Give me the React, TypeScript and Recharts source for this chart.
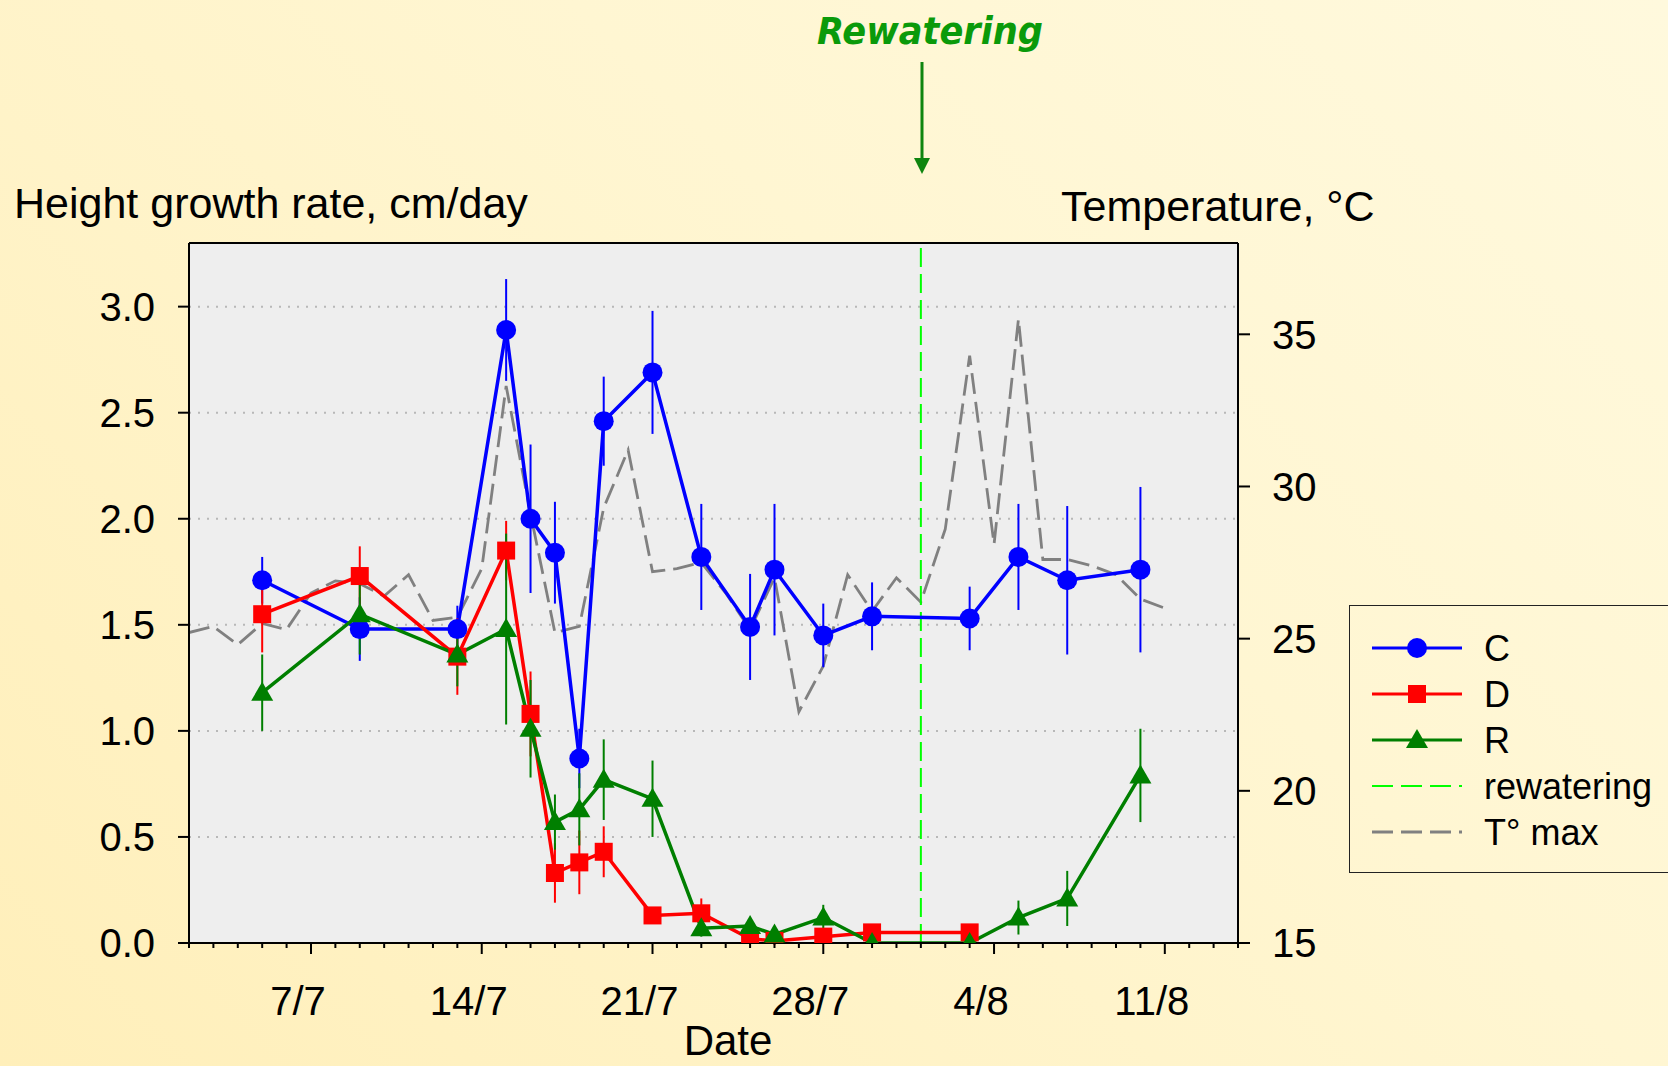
import React from 'react';
import {
  ComposedChart,
  Line,
  XAxis,
  YAxis,
  CartesianGrid,
  ReferenceLine,
  ErrorBar,
  Legend,
} from 'recharts';

// day numbers: July d -> d, August d -> 31 + d
const C_DAYS = [5, 9, 13, 15, 16, 17, 18, 19, 21, 23, 25, 26, 28, 30, 34, 36, 38, 41];
const C_RATE = [1.71, 1.48, 1.48, 2.89, 2.0, 1.84, 0.87, 2.46, 2.69, 1.82, 1.49, 1.76, 1.45, 1.54, 1.53, 1.82, 1.71, 1.76];
const C_ERR = [0.11, 0.15, 0.11, 0.24, 0.35, 0.24, 0.14, 0.21, 0.29, 0.25, 0.25, 0.31, 0.15, 0.16, 0.15, 0.25, 0.35, 0.39];

const D_DAYS = [5, 9, 13, 15, 16, 17, 18, 19, 21, 23, 25, 26, 28, 30, 34];
const D_RATE = [1.55, 1.73, 1.35, 1.85, 1.08, 0.33, 0.38, 0.43, 0.13, 0.14, 0.02, 0.01, 0.03, 0.05, 0.05];
const D_ERR = [0.18, 0.14, 0.18, 0.14, 0.2, 0.14, 0.15, 0.12, 0.03, 0.07, 0.02, 0.02, 0.02, 0.02, 0.02];

const R_DAYS = [5, 9, 13, 15, 16, 17, 18, 19, 21, 23, 25, 26, 28, 30, 34, 36, 38, 41];
const R_RATE = [1.18, 1.55, 1.36, 1.48, 1.01, 0.57, 0.63, 0.77, 0.68, 0.07, 0.08, 0.04, 0.12, 0.0, 0.0, 0.12, 0.21, 0.79];
const R_ERR = [0.18, 0.19, 0.15, 0.45, 0.23, 0.13, 0.17, 0.19, 0.18, 0.04, 0.02, 0.02, 0.06, 0, 0, 0.08, 0.13, 0.22];

const T_DAYS = [2, 3, 4, 5, 6, 7, 8, 9, 10, 11, 12, 13, 14, 15, 16, 17, 18, 19, 20, 21, 22, 23, 24, 25, 26, 27, 28, 29, 30, 31, 32, 33, 34, 35, 36, 37, 38, 39, 40, 41, 42];
const T_MAX = [25.2, 25.4, 24.8, 25.5, 25.3, 26.5, 26.9, 26.8, 26.4, 27.1, 25.6, 25.7, 27.3, 33.3, 29.1, 25.2, 25.4, 29.3, 31.2, 27.2, 27.3, 27.5, 26.5, 25.3, 27.0, 22.6, 24.1, 27.1, 25.9, 27.0, 26.2, 28.6, 34.3, 28.1, 35.5, 27.6, 27.6, 27.4, 27.1, 26.3, 26.0];

const REWATERING_DAY = 32;
const MAJOR_DAYS = [7, 14, 21, 28, 35, 42];
const MAJOR_LABELS = ['7/7', '14/7', '21/7', '28/7', '4/8', '11/8'];
const ALL_DAYS = Array.from({ length: 44 }, (_, i) => i + 2);
const LEFT_TICKS = [0, 0.5, 1.0, 1.5, 2.0, 2.5, 3.0];
const RIGHT_TICKS = [15, 20, 25, 30, 35];

const cData = C_DAYS.map((d, i) => ({ day: d, value: C_RATE[i], err: C_ERR[i] }));
const dData = D_DAYS.map((d, i) => ({ day: d, value: D_RATE[i], err: D_ERR[i] }));
const rData = R_DAYS.map((d, i) => ({ day: d, value: R_RATE[i], err: R_ERR[i] }));
const tData = T_DAYS.map((d, i) => ({ day: d, temp: T_MAX[i] }));

const BLUE = '#0000ff';
const RED = '#ff0000';
const GREEN = '#007f00';
const LIME = '#00ff00';
const GREY = '#808080';
const FONT = '"Liberation Sans", Arial, sans-serif';

const Circle = ({ cx, cy, fill }: any) => <circle cx={cx} cy={cy} r={10} fill={fill} />;
const Square = ({ cx, cy, fill }: any) => <rect x={cx - 9} y={cy - 9} width={18} height={18} fill={fill} />;
const Triangle = ({ cx, cy, fill }: any) => (
  <polygon points={`${cx},${cy - 11} ${cx + 11},${cy + 8} ${cx - 11},${cy + 8}`} fill={fill} />
);

const XTick = ({ x, y, payload }: any) => {
  const idx = MAJOR_DAYS.indexOf(payload.value);
  const major = idx >= 0;
  return (
    <g>
      <line x1={x} x2={x} y1={y} y2={y + (major ? 11 : 5)} stroke="#000" strokeWidth={2} />
      {major && (
        <text x={x - 13} y={y + 72} textAnchor="middle" fontSize={40} fill="#000" fontFamily={FONT}>
          {MAJOR_LABELS[idx]}
        </text>
      )}
    </g>
  );
};

const LegendBox = () => {
  const rows = [
    { label: 'C', color: BLUE, marker: 'circle' },
    { label: 'D', color: RED, marker: 'square' },
    { label: 'R', color: GREEN, marker: 'triangle' },
    { label: 'rewatering', color: LIME, dash: '21 8', width: 2 },
    { label: 'T° max', color: GREY, dash: '21 8', width: 3 },
  ];
  return (
    <div style={{ width: 330, height: 268, border: '1.5px solid #222', boxSizing: 'border-box' }}>
      <svg width={330} height={268}>
        {rows.map((r, i) => {
          const cy = 42 + i * 46;
          return (
            <g key={r.label}>
              <line x1={22} x2={112} y1={cy} y2={cy} stroke={r.color} strokeWidth={r.width || 3} strokeDasharray={r.dash} />
              {r.marker === 'circle' && <Circle cx={67} cy={cy} fill={r.color} />}
              {r.marker === 'square' && <Square cx={67} cy={cy} fill={r.color} />}
              {r.marker === 'triangle' && <Triangle cx={67} cy={cy} fill={r.color} />}
              <text x={134} y={cy + 13} fontSize={36} fill="#000" fontFamily={FONT}>
                {r.label}
              </text>
            </g>
          );
        })}
      </svg>
    </div>
  );
};

export default function App() {
  return (
    <div
      style={{
        position: 'absolute',
        left: 0,
        top: 0,
        width: 1668,
        height: 1066,
        overflow: 'hidden',
        background: 'linear-gradient(225deg, #fff9dd 0%, #fff6d2 40%, #ffefba 100%)',
        fontFamily: FONT,
      }}
    >
      <ComposedChart width={1668} height={1066} margin={{ top: 243, right: 0, bottom: 0, left: 0 }}>
        <CartesianGrid
          yAxisId="left"
          vertical={false}
          stroke="#b8b8b8"
          strokeWidth={2}
          strokeDasharray="2 7"
          fill="#eeeeee"
          fillOpacity={1}
        />
        <XAxis
          dataKey="day"
          type="number"
          domain={[2, 45]}
          ticks={ALL_DAYS}
          interval={0}
          allowDataOverflow
          height={123}
          tickSize={0}
          tickMargin={0}
          tickLine={false}
          tick={<XTick />}
          axisLine={{ stroke: '#000', strokeWidth: 2 }}
        />
        <YAxis
          yAxisId="left"
          orientation="left"
          type="number"
          domain={[0, 3.3]}
          ticks={LEFT_TICKS}
          interval={0}
          allowDataOverflow
          width={189}
          tickSize={11}
          tickMargin={23}
          tickFormatter={(v: number) => v.toFixed(1)}
          tick={{ fill: '#000', fontSize: 40, fontFamily: FONT }}
          tickLine={{ stroke: '#000', strokeWidth: 2 }}
          axisLine={{ stroke: '#000', strokeWidth: 2 }}
        />
        <YAxis
          yAxisId="right"
          orientation="right"
          type="number"
          domain={[15, 38]}
          ticks={RIGHT_TICKS}
          interval={0}
          allowDataOverflow
          width={430}
          tickSize={12}
          tickMargin={22}
          tick={{ fill: '#000', fontSize: 40, fontFamily: FONT }}
          tickLine={{ stroke: '#000', strokeWidth: 2 }}
          axisLine={{ stroke: '#000', strokeWidth: 2 }}
        />
        <ReferenceLine yAxisId="left" y={3.3} stroke="#000" strokeWidth={2} />
        <Line
          yAxisId="right"
          data={tData}
          dataKey="temp"
          stroke={GREY}
          strokeWidth={2.8}
          strokeDasharray="21 8"
          dot={false}
          activeDot={false}
          isAnimationActive={false}
        />
        <ReferenceLine
          yAxisId="left"
          x={REWATERING_DAY}
          stroke={LIME}
          strokeWidth={2}
          strokeDasharray="19 7"
        />
        <Line
          yAxisId="left"
          data={cData}
          dataKey="value"
          stroke={BLUE}
          strokeWidth={3.5}
          dot={(p: any) => <Circle key={`c${p.index}`} cx={p.cx} cy={p.cy} fill={BLUE} />}
          activeDot={false}
          isAnimationActive={false}
        >
          <ErrorBar dataKey="err" direction="y" width={0} stroke={BLUE} strokeWidth={2} isAnimationActive={false} />
        </Line>
        <Line
          yAxisId="left"
          data={dData}
          dataKey="value"
          stroke={RED}
          strokeWidth={3.5}
          dot={(p: any) => <Square key={`d${p.index}`} cx={p.cx} cy={p.cy} fill={RED} />}
          activeDot={false}
          isAnimationActive={false}
        >
          <ErrorBar dataKey="err" direction="y" width={0} stroke={RED} strokeWidth={2} isAnimationActive={false} />
        </Line>
        <Line
          yAxisId="left"
          data={rData}
          dataKey="value"
          stroke={GREEN}
          strokeWidth={3.5}
          dot={(p: any) => <Triangle key={`r${p.index}`} cx={p.cx} cy={p.cy} fill={GREEN} />}
          activeDot={false}
          isAnimationActive={false}
        >
          <ErrorBar dataKey="err" direction="y" width={0} stroke={GREEN} strokeWidth={2} isAnimationActive={false} />
        </Line>
        <Legend
          layout="vertical"
          align="center"
          verticalAlign="middle"
          content={() => <LegendBox />}
          wrapperStyle={{ position: 'absolute', left: 1349, top: 605, width: 330, height: 268 }}
        />
      </ComposedChart>

      <svg
        width={1668}
        height={1066}
        style={{ position: 'absolute', left: 0, top: 0, pointerEvents: 'none' }}
      >
        <text x={14} y={218} fontSize={43} fill="#000" fontFamily={FONT}>
          Height growth rate, cm/day
        </text>
        <text x={1061} y={221} fontSize={43} fill="#000" fontFamily={FONT}>
          Temperature, °C
        </text>
        <text x={728} y={1055} fontSize={42} fill="#000" textAnchor="middle" fontFamily={FONT}>
          Date
        </text>
        <text
          x={930}
          y={44}
          fontSize={37}
          fill="#0a9a0a"
          textAnchor="middle"
          fontWeight="bold"
          fontStyle="italic"
          fontFamily='"Comic Sans MS", "DejaVu Sans", sans-serif'
          textLength={226}
          lengthAdjust="spacingAndGlyphs"
        >
          Rewatering
        </text>
        <line x1={922} x2={922} y1={62} y2={162} stroke="#0f850f" strokeWidth={3} />
        <polygon points="914,158 930,158 922,174" fill="#0f850f" />
      </svg>
    </div>
  );
}
